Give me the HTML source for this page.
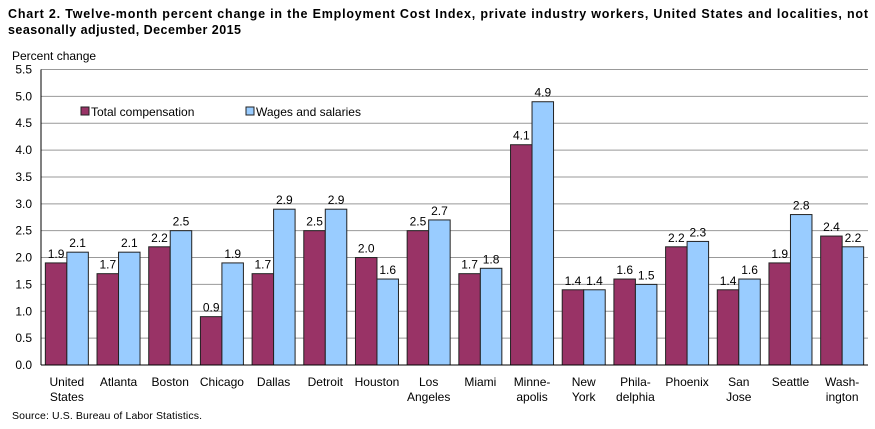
<!DOCTYPE html><html><head><style>body{margin:0;background:#fff}svg{display:block;font-family:"Liberation Sans",Arial,sans-serif}</style></head><body>
<svg width="875" height="429" viewBox="0 0 875 429">
<text x="8" y="18" font-size="12.5" font-weight="bold" textLength="860" lengthAdjust="spacing">Chart 2. Twelve-month percent change in the Employment Cost Index, private industry  workers, United States and localities, not</text>
<text x="8" y="34" font-size="12.5" font-weight="bold" textLength="233" lengthAdjust="spacing">seasonally adjusted, December 2015</text>
<text x="12" y="60" font-size="12">Percent change</text>
<g id="g"></g>
<text x="12" y="419" font-size="10.5" textLength="190" lengthAdjust="spacing">Source: U.S. Bureau of Labor Statistics.</text>
</svg>
<script>
const g=document.getElementById('g');let s='';
const y0=365,k=(365-69.5)/5.5,L=41,R=868,W=(R-L)/16;
for(let i=0;i<=11;i++){const v=i*0.5,y=y0-v*k;
 if(i>0)s+=`<line x1="${L}" x2="${R}" y1="${y}" y2="${y}" stroke="#999" stroke-width="1"/>`;
 s+=`<text x="32" y="${y+4}" font-size="12" text-anchor="end">${v.toFixed(1)}</text>`;}
const d=[["United|States",1.9,2.1],["Atlanta",1.7,2.1],["Boston",2.2,2.5],["Chicago",0.9,1.9],["Dallas",1.7,2.9],["Detroit",2.5,2.9],["Houston",2.0,1.6],["Los|Angeles",2.5,2.7],["Miami",1.7,1.8],["Minne-|apolis",4.1,4.9],["New|York",1.4,1.4],["Phila-|delphia",1.6,1.5],["Phoenix",2.2,2.3],["San|Jose",1.4,1.6],["Seattle",1.9,2.8],["Wash-|ington",2.4,2.2]];
d.forEach((c,i)=>{const x=L+i*W,bw=21.5,o=(W-2*bw)/2;
 [[c[1],'#993366'],[c[2],'#99ccff']].forEach((b,j)=>{const bx=x+o+j*bw,h=b[0]*k;
  s+=`<rect x="${bx}" y="${y0-h}" width="${bw}" height="${h}" fill="${b[1]}" stroke="#222" stroke-width="1"/>`;
  s+=`<text x="${bx+bw/2}" y="${y0-h-5}" font-size="12" text-anchor="middle">${b[0].toFixed(1)}</text>`;});
 c[0].split('|').forEach((t,j)=>s+=`<text x="${x+W/2}" y="${386+j*15}" font-size="12" text-anchor="middle">${t}</text>`);});
s+=`<line x1="${L}" x2="${L}" y1="69.5" y2="${y0}" stroke="#000"/><line x1="${L}" x2="${R}" y1="${y0}" y2="${y0}" stroke="#000"/>`;
s+=`<rect x="81" y="107" width="8" height="8" fill="#993366" stroke="#222"/><text x="91" y="116" font-size="12">Total compensation</text>`;
s+=`<rect x="246" y="107" width="8" height="8" fill="#99ccff" stroke="#222"/><text x="256" y="116" font-size="12">Wages and salaries</text>`;
g.innerHTML=s;
</script>
</body></html>
